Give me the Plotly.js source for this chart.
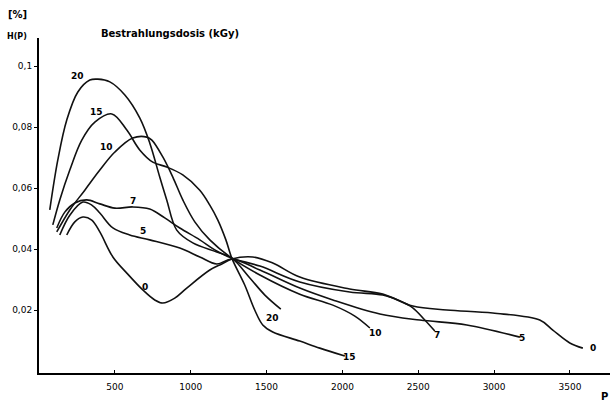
<!DOCTYPE html>
<html>
<head>
<meta charset="utf-8">
<script src="https://cdn.plot.ly/plotly-3.0.1.min.js"></script>
<style>html,body{margin:0;padding:0;background:#fff;}#chart{width:615px;height:408px;}</style>
</head>
<body>
<div id="chart"></div>
<script>
// Dose series (kGy) and their curves H(P) vs P
const doses = ['20', '15', '10', '7', '5', '0'];

const x20 = [71,124,183,256,335,388,467,566,664,730,796,842,908,1014,1172,1271,1390,1489,1594];
const y20 = [.0528,.0692,.0823,.0915,.0954,.0957,.0948,.0905,.0830,.0748,.0636,.0561,.0462,.0420,.0390,.0370,.0305,.0249,.0203];

const x15 = [91,137,203,282,368,480,579,664,750,842,948,1060,1126,1179,1232,1271,1356,1422,1475,1541,1719,1851,2016];
const y15 = [.0479,.0561,.0659,.0757,.0816,.0843,.0790,.0725,.0685,.0669,.0643,.0593,.0544,.0495,.0430,.0370,.0282,.0200,.0151,.0128,.0098,.0075,.0049];

const x10 = [117,203,302,401,500,618,711,744,816,882,948,1027,1126,1271,1456,1719,1937,2082,2181];
const y10 = [.0456,.0528,.0593,.0659,.0718,.0764,.0767,.0757,.0702,.0636,.0561,.0489,.0430,.0370,.0315,.0252,.0216,.0180,.0141];

const x7 = [117,170,236,315,401,500,618,730,829,928,1060,1159,1271,1456,1719,2048,2266,2378,2464,2543,2609];
const y7 = [.0469,.0521,.0551,.0561,.0548,.0534,.0538,.0531,.0502,.0469,.0430,.0397,.0370,.0344,.0292,.0259,.0249,.0230,.0207,.0167,.0131];

const x5 = [137,203,289,348,401,487,598,730,928,1060,1172,1271,1456,1719,1937,2247,2510,2820,3170];
const y5 = [.0446,.0511,.0554,.0544,.0518,.0469,.0446,.0430,.0403,.0374,.0351,.0367,.0331,.0272,.0233,.0187,.0167,.0151,.0111];

const x0 = [183,236,289,348,401,487,579,684,763,816,895,974,1126,1205,1271,1409,1541,1719,2048,2266,2464,2688,2991,3301,3387,3499,3585];
const y0 = [.0446,.0489,.0505,.0495,.0456,.0374,.0321,.0266,.0233,.0223,.0239,.0272,.0331,.0351,.0367,.0374,.0354,.0308,.0269,.0252,.0213,.0200,.0190,.0167,.0134,.0092,.0075];

const xTicks = [500,1000,1500,2000,2500,3000,3500];
const xTickText = ['500','1000','1500','2000','2500','3000','3500'];
const yTicks = [0.02,0.04,0.06,0.08,0.1];
const yTickText = ['0,02','0,04','0,06','0,08','0,1'];

const seriesX = [x20, x15, x10, x7, x5, x0];
const seriesY = [y20, y15, y10, y7, y5, y0];

const traces = doses.map((d, i) => ({
  x: seriesX[i], y: seriesY[i], type: 'scatter', mode: 'lines', name: d,
  line: {color: '#111', width: 1.6, shape: 'spline', smoothing: 1.0},
  hoverinfo: 'skip'
}));

const font = {family: 'DejaVu Sans, sans-serif', color: '#000', size: 9};

// curve labels: start and end of each curve
const startLabels = [[256,.0966],[381,.0848],[447,.0736],[619,.0556],[685,.0458],[698,.0277]];
const endLabels = [[1536,.0174],[2049,.0046],[2220,.0125],[2622,.0118],[3183,.0108],[3651,.0075]];

const annotations = [];
doses.forEach((d, i) => {
  annotations.push({x: startLabels[i][0], y: startLabels[i][1], xref: 'x', yref: 'y', text: '<b>' + d + '</b>', showarrow: false, font: font, xanchor: 'center', yanchor: 'middle'});
  annotations.push({x: endLabels[i][0], y: endLabels[i][1], xref: 'x', yref: 'y', text: '<b>' + d + '</b>', showarrow: false, font: font, xanchor: 'center', yanchor: 'middle'});
});
// paper coords: plot area spans px 39..610 horizontally and 38..373 vertically
annotations.push({x: -0.0368, y: 1.0687, xref: 'paper', yref: 'paper', xanchor: 'center', yanchor: 'middle', text: '<b>[%]</b>', showarrow: false, font: {family: font.family, size: 10, color: '#000'}});
annotations.push({x: -0.038, y: 1.003, xref: 'paper', yref: 'paper', xanchor: 'center', yanchor: 'middle', text: '<b>H(P)</b>', showarrow: false, font: {family: font.family, size: 8, color: '#000'}});
annotations.push({x: 0.991, y: -0.0716, xref: 'paper', yref: 'paper', xanchor: 'center', yanchor: 'middle', text: '<b>P</b>', showarrow: false, font: {family: font.family, size: 10, color: '#000'}});

const layout = {
  width: 615, height: 408,
  margin: {l: 39, r: 5, t: 38, b: 35},
  paper_bgcolor: '#fff', plot_bgcolor: '#fff',
  showlegend: false,
  title: {text: '<b>Bestrahlungsdosis (kGy)</b>', x: 170/615, xanchor: 'center', y: 1 - 33/408, yanchor: 'middle', font: {family: font.family, size: 10, color: '#000'}},
  xaxis: {
    range: [0, 3764], showgrid: false, zeroline: false,
    showline: true, linecolor: '#000', linewidth: 2,
    tickvals: xTicks, ticktext: xTickText, ticks: 'inside', ticklen: 3, tickcolor: '#000',
    tickfont: {family: font.family, size: 9, color: '#000'}, ticklabelstandoff: 4
  },
  yaxis: {
    range: [-0.00066, 0.1092], showgrid: false, zeroline: false,
    showline: true, linecolor: '#000', linewidth: 2,
    tickvals: yTicks, ticktext: yTickText, ticks: 'outside', ticklen: 3, tickcolor: '#000',
    tickfont: {family: font.family, size: 9, color: '#000'}
  },
  annotations: annotations
};

Plotly.newPlot('chart', traces, layout, {staticPlot: true, displayModeBar: false});
</script>
</body>
</html>
